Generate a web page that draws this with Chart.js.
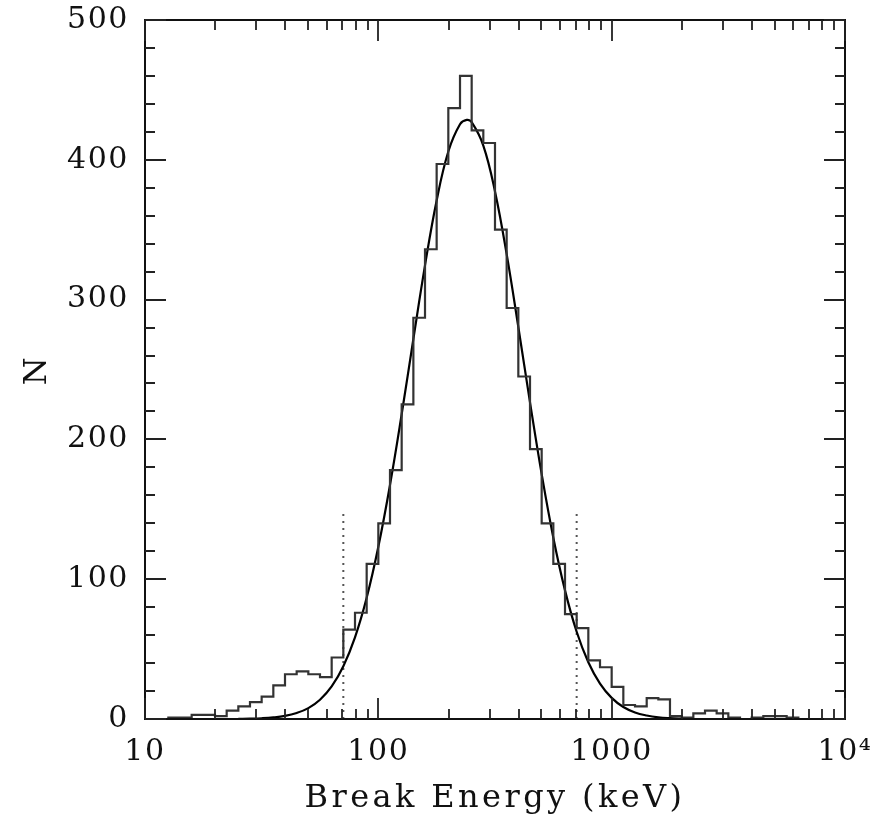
<!DOCTYPE html>
<html><head><meta charset="utf-8">
<script src="https://cdn.jsdelivr.net/npm/chart.js@4.4.0/dist/chart.umd.min.js"></script>
<style>html,body{margin:0;padding:0;background:#fff;}#wrap{width:878px;height:820px;}</style>
</head><body><div id="wrap"><canvas id="c" width="878" height="820"></canvas></div>
<script>
// Histogram bin edges (keV), 20 bins per decade
const binEdges = [10, 11.22, 12.59, 14.13, 15.85, 17.78, 19.95, 22.39, 25.12, 28.18,
  31.62, 35.48, 39.81, 44.67, 50.12, 56.23, 63.10, 70.79, 79.43, 89.13,
  100, 112.2, 125.9, 141.3, 158.5, 177.8, 199.5, 223.9, 251.2, 281.8,
  316.2, 354.8, 398.1, 446.7, 501.2, 562.3, 631.0, 707.9, 794.3, 891.3,
  1000, 1122, 1259, 1413, 1585, 1778, 1995, 2239, 2512, 2818,
  3162, 3548, 3981, 4467, 5012, 5623, 6310, 7079, 7943, 8913, 10000];
// Counts per bin (60 bins)
const binCounts = [0, 0, 1, 1, 3, 3, 2, 6, 9, 12,
  16, 24, 32, 34, 32, 30, 44, 64, 76, 111,
  140, 178, 225, 287, 336, 397, 437, 460, 421, 412,
  350, 294, 245, 193, 140, 111, 75, 65, 42, 37,
  23, 10, 9, 15, 14, 2, 1, 4, 6, 4,
  1, 0, 1, 2, 2, 1, 0, 0, 0, 0];
// Fitted curve
const fitEnergy = [25.12, 28.18, 31.62, 35.48, 39.81, 44.67, 50.12, 56.23, 63.10, 70.79,
  79.43, 89.13, 100, 112.2, 125.9, 141.3, 158.5, 177.8, 199.5, 223.9,
  239.3, 251.2, 281.8, 316.2, 354.8, 398.1, 446.7, 501.2, 562.3, 631.0,
  707.9, 794.3, 891.3, 1000, 1122, 1259, 1413, 1585, 1778, 1995, 2239];
const fitN = [0.1, 0.24, 0.52, 1.1, 2.2, 4.3, 7.8, 13.8, 23.3, 37.8,
  58.4, 86.7, 123.2, 167.4, 218.0, 271.8, 324.5, 370.9, 405.9, 425.4,
  428.5, 426.9, 410.2, 377.4, 332.5, 280.4, 226.5, 175.2, 129.7, 92.0,
  62.4, 40.6, 25.3, 15.1, 8.6, 4.7, 2.5, 1.2, 0.6, 0.3, 0.1];
// Dotted marker lines
const markerEnergy = [70.79, 707.9];
const markerHeight = [0, 150];
// Axis ticks
const xTickValues = [10, 100, 1000, 10000];
const xTickLabels = ['10', '100', '1000', '10\u2074'];
const yTickValues = [0, 100, 200, 300, 400, 500];
const xTitle = 'Break Energy (keV)';
const yTitle = 'N';

const FONT = 'DejaVu Serif';
const TICK_SPACING = '1.6px';
const TITLE_SPACING = '3.4px';
const histData = binEdges.map((e, i) => ({x: e, y: i < binCounts.length ? binCounts[i] : 0}));
const fitData = fitEnergy.map((e, i) => ({x: e, y: fitN[i]}));
const markerSets = markerEnergy.map(e => ({
  data: markerHeight.map(h => ({x: e, y: h})),
  borderColor: '#555', borderWidth: 2, borderDash: [2, 5], pointRadius: 0, fill: false
}));

const spacingPlugin = {
  id: 'spacing',
  beforeDraw(chart) {
    const ctx = chart.ctx;
    if ('letterSpacing' in ctx) ctx.letterSpacing = TICK_SPACING;
    for (const id of ['x', 'y']) {
      const s = chart.scales[id];
      if (s && !s._wrappedTitle) {
        const orig = s.drawTitle;
        s.drawTitle = function () {
          if ('letterSpacing' in ctx) ctx.letterSpacing = TITLE_SPACING;
          orig.apply(this, arguments);
          if ('letterSpacing' in ctx) ctx.letterSpacing = TICK_SPACING;
        };
        s._wrappedTitle = true;
      }
    }
  }
};

const framePlugin = {
  id: 'frame',
  afterDatasetsDraw(chart) {
    const {ctx, chartArea: a, scales} = chart;
    const xs = scales.x, ys = scales.y;
    ctx.save();
    ctx.strokeStyle = '#111';
    ctx.lineWidth = 2;
    ctx.strokeRect(a.left, a.top, a.right - a.left, a.bottom - a.top);
    ctx.lineWidth = 1.8;
    ctx.strokeStyle = '#222';
    const MAJ = 21, MIN = 10;
    ctx.beginPath();
    for (const d of [10, 100, 1000]) {
      for (let m = 1; m <= 10; m++) {
        const v = d * m;
        const px = Math.round(xs.getPixelForValue(v));
        const len = (m === 1 || m === 10) ? MAJ : MIN;
        ctx.moveTo(px, a.bottom); ctx.lineTo(px, a.bottom - len);
        ctx.moveTo(px, a.top); ctx.lineTo(px, a.top + len);
      }
    }
    for (let v = 0; v <= 500; v += 20) {
      const py = Math.round(ys.getPixelForValue(v));
      const len = (v % 100 === 0) ? MAJ : MIN;
      ctx.moveTo(a.left, py); ctx.lineTo(a.left + len, py);
      ctx.moveTo(a.right, py); ctx.lineTo(a.right - len, py);
    }
    ctx.stroke();
    ctx.restore();
  }
};

new Chart(document.getElementById('c'), {
  type: 'line',
  data: {
    datasets: [
      {data: histData, stepped: 'before', borderColor: '#333', borderWidth: 2.2, pointRadius: 0, fill: false, borderJoinStyle: 'miter'},
      {data: fitData, borderColor: '#000', borderWidth: 2.2, pointRadius: 0, fill: false, tension: 0.4},
      ...markerSets
    ]
  },
  options: {
    responsive: false,
    animation: false,
    devicePixelRatio: 1,
    layout: {padding: {left: 0, right: 33, top: 20, bottom: 0}},
    plugins: {legend: {display: false}, tooltip: {enabled: false}},
    scales: {
      x: {
        type: 'logarithmic', min: 10, max: 10000, position: 'bottom',
        grid: {display: false}, border: {display: false},
        ticks: {font: {family: FONT, size: 30}, color: '#111', padding: 7, maxRotation: 0, autoSkip: false,
          callback: (v) => { const i = xTickValues.indexOf(v); return i >= 0 ? xTickLabels[i] : ''; }},
        afterBuildTicks: (s) => { s.ticks = xTickValues.map(v => ({value: v})); },
        afterFit: (s) => { s.height = 101; s.paddingLeft = 0; s.paddingRight = 0; },
        title: {display: true, text: xTitle, font: {family: FONT, size: 32}, color: '#111', padding: {top: 0, bottom: 2}}
      },
      y: {
        min: 0, max: 500,
        grid: {display: false}, border: {display: false},
        ticks: {font: {family: FONT, size: 30}, color: '#111', padding: 8},
        afterBuildTicks: (s) => { s.ticks = yTickValues.map(v => ({value: v})); },
        afterFit: (s) => { s.width = 145; s.paddingTop = 0; s.paddingBottom = 0; },
        title: {display: true, text: yTitle, font: {family: FONT, size: 32}, color: '#111', padding: {top: 18, bottom: 0}}
      }
    }
  },
  plugins: [spacingPlugin, framePlugin]
});
</script></body></html>
